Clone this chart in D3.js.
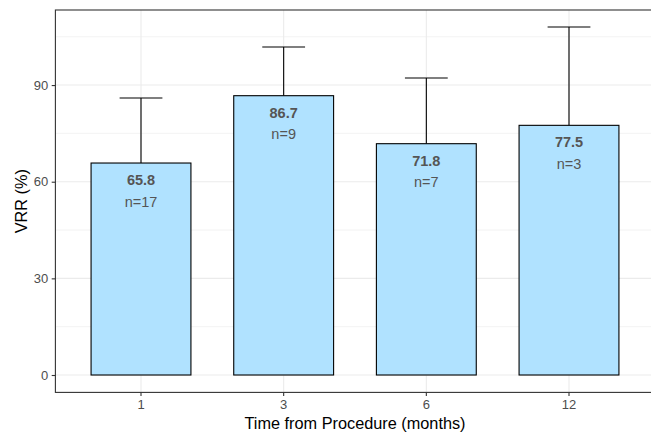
<!DOCTYPE html>
<html>
<head>
<meta charset="utf-8">
<script src="https://cdn.jsdelivr.net/npm/d3@7"></script>
<style>
  body { margin: 0; background: #fff; }
  svg { display: block; font-family: "Liberation Sans", Arial, sans-serif; }
</style>
</head>
<body>
<svg id="chart"></svg>
<script>
const width = 651;
const height = 433;

// values
const months = ["1", "3", "6", "12"];
const vrr = [65.8, 86.7, 71.8, 77.5];
const upper = [86.0, 101.8, 92.2, 108.0];
const counts = [17, 9, 7, 3];
const yTicks = [0, 30, 60, 90];
const yMinor = [15, 45, 75, 105];

const svg = d3.select("#chart")
  .attr("width", width)
  .attr("height", height);

const panel = { left: 55.4, right: 654.6, top: 10, bottom: 392.4 };

const x = d3.scaleBand()
  .domain(months)
  .range([panel.left, panel.right])
  .paddingInner(0.3)
  .paddingOuter(0.25);

const y = d3.scaleLinear()
  .domain([-5.4, 113.3])
  .range([panel.bottom, panel.top]);

const rows = months.map((m, i) => ({ m, v: vrr[i], hi: upper[i], n: counts[i] }));

// grid
const grid = svg.append("g");
grid.selectAll(".minor").data(yMinor).enter().append("line")
  .attr("x1", panel.left).attr("x2", panel.right)
  .attr("y1", d => y(d)).attr("y2", d => y(d))
  .attr("stroke", "#EBEBEB").attr("stroke-width", 0.6);
grid.selectAll(".major").data(yTicks).enter().append("line")
  .attr("x1", panel.left).attr("x2", panel.right)
  .attr("y1", d => y(d)).attr("y2", d => y(d))
  .attr("stroke", "#EBEBEB").attr("stroke-width", 1.1);
grid.selectAll(".vmajor").data(months).enter().append("line")
  .attr("x1", d => x(d) + x.bandwidth() / 2).attr("x2", d => x(d) + x.bandwidth() / 2)
  .attr("y1", panel.top).attr("y2", panel.bottom)
  .attr("stroke", "#EBEBEB").attr("stroke-width", 1.1);

// error bars (upper half only)
const eb = svg.append("g").attr("stroke", "#000").attr("stroke-width", 1.1);
const cx = d => x(d.m) + x.bandwidth() / 2;
const whisker = x.step() * 0.3;
eb.selectAll(".v").data(rows).enter().append("line")
  .attr("x1", cx).attr("x2", cx)
  .attr("y1", d => y(d.v)).attr("y2", d => y(d.hi));
eb.selectAll(".h").data(rows).enter().append("line")
  .attr("x1", d => cx(d) - whisker / 2).attr("x2", d => cx(d) + whisker / 2)
  .attr("y1", d => y(d.hi)).attr("y2", d => y(d.hi));

// bars
svg.append("g").selectAll("rect").data(rows).enter().append("rect")
  .attr("x", d => x(d.m))
  .attr("width", x.bandwidth())
  .attr("y", d => y(d.v))
  .attr("height", d => y(0) - y(d.v))
  .attr("fill", "#B0E2FF")
  .attr("stroke", "#000")
  .attr("stroke-width", 1.1);

// labels inside bars
const lbl = svg.append("g").attr("text-anchor", "middle").attr("fill", "#555555").attr("font-size", 14.5);
lbl.selectAll(".val").data(rows).enter().append("text")
  .attr("x", cx).attr("y", d => y(d.v) + 22)
  .attr("font-weight", "bold")
  .text(d => d.v.toFixed(1));
lbl.selectAll(".n").data(rows).enter().append("text")
  .attr("x", cx).attr("y", d => y(d.v) + 43.5)
  .text(d => "n=" + d.n);

// panel border
svg.append("rect")
  .attr("x", panel.left).attr("y", panel.top)
  .attr("width", panel.right - panel.left).attr("height", panel.bottom - panel.top)
  .attr("fill", "none").attr("stroke", "#333333").attr("stroke-width", 1.1);

// axes
const yAxis = svg.append("g")
  .attr("transform", `translate(${panel.left},0)`)
  .call(d3.axisLeft(y).tickValues(yTicks).tickSize(3.7).tickPadding(3.5));
const xAxis = svg.append("g")
  .attr("transform", `translate(0,${panel.bottom})`)
  .call(d3.axisBottom(x).tickSize(3.7).tickPadding(3.5));
[yAxis, xAxis].forEach(a => {
  a.attr("font-size", 13).attr("font-family", "Liberation Sans, Arial, sans-serif");
  a.select(".domain").remove();
  a.selectAll(".tick line").attr("stroke", "#333333").attr("stroke-width", 1.1);
  a.selectAll(".tick text").attr("fill", "#4D4D4D");
});

// axis titles
svg.append("text")
  .attr("x", (panel.left + panel.right) / 2).attr("y", 429)
  .attr("text-anchor", "middle").attr("font-size", 16.3).attr("fill", "#000")
  .text("Time from Procedure (months)");
svg.append("text")
  .attr("transform", `translate(27,${(panel.top + panel.bottom) / 2}) rotate(-90)`)
  .attr("text-anchor", "middle").attr("font-size", 16.3).attr("fill", "#000")
  .text("VRR (%)");
</script>
</body>
</html>
